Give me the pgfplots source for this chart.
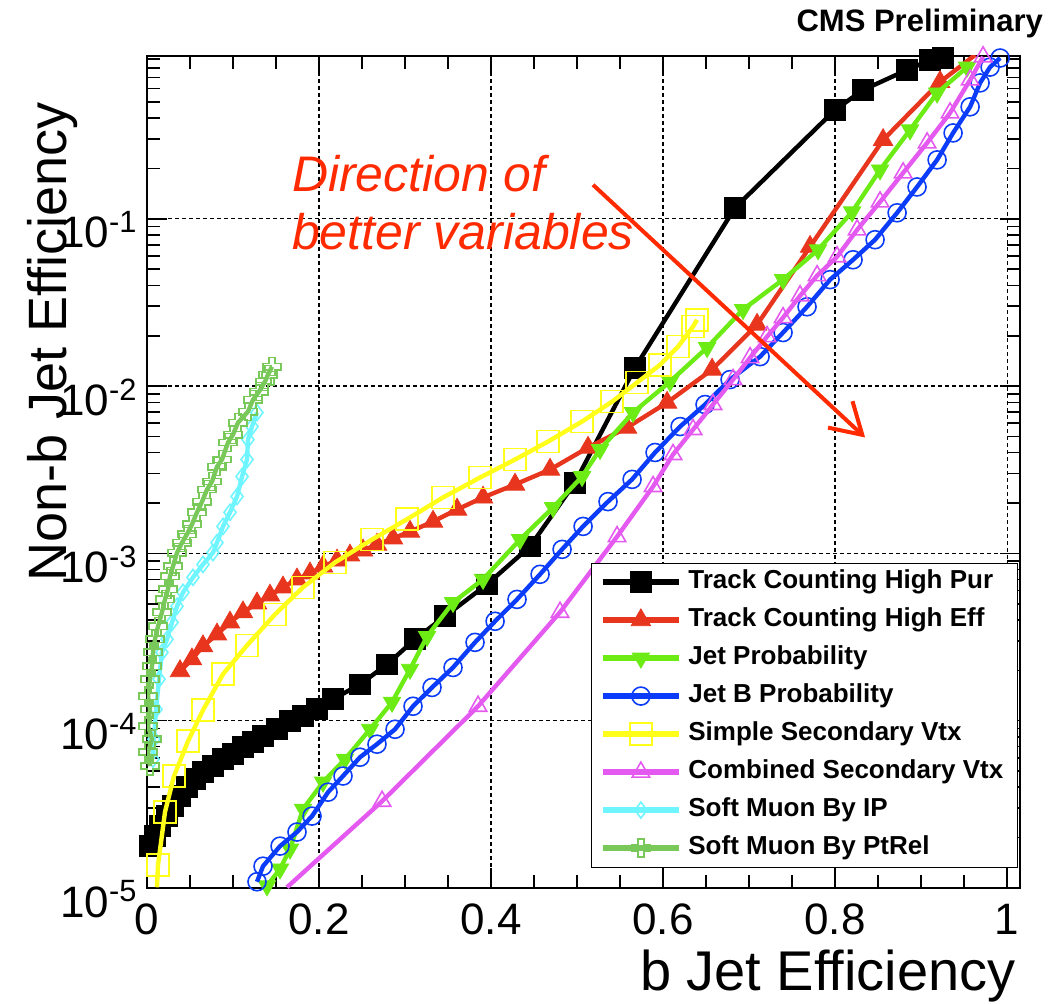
\documentclass[border=0pt]{standalone}
\usepackage{fontspec}
\setmainfont{Liberation Sans}
\usepackage{pgfplots}
\usepackage{pgfplotstable}
\pgfplotsset{compat=1.18}
\usetikzlibrary{arrows.meta}

\definecolor{tchpc}{HTML}{000000}
\definecolor{tchec}{HTML}{E8361E}
\definecolor{jpc}{HTML}{6CEB14}
\definecolor{jbpc}{HTML}{0A3CFA}
\definecolor{ssvc}{HTML}{FFFF1A}
\definecolor{csvc}{HTML}{E45AF0}
\definecolor{smipc}{HTML}{6EF5FF}
\definecolor{smptc}{HTML}{78C85A}
\definecolor{dirred}{HTML}{FF2A00}

% open cross marker (ROOT style)
\pgfdeclareplotmark{opencross}{%
  \pgfpathmoveto{\pgfqpoint{-.35\pgfplotmarksize}{\pgfplotmarksize}}%
  \pgfpathlineto{\pgfqpoint{.35\pgfplotmarksize}{\pgfplotmarksize}}%
  \pgfpathlineto{\pgfqpoint{.35\pgfplotmarksize}{.35\pgfplotmarksize}}%
  \pgfpathlineto{\pgfqpoint{\pgfplotmarksize}{.35\pgfplotmarksize}}%
  \pgfpathlineto{\pgfqpoint{\pgfplotmarksize}{-.35\pgfplotmarksize}}%
  \pgfpathlineto{\pgfqpoint{.35\pgfplotmarksize}{-.35\pgfplotmarksize}}%
  \pgfpathlineto{\pgfqpoint{.35\pgfplotmarksize}{-\pgfplotmarksize}}%
  \pgfpathlineto{\pgfqpoint{-.35\pgfplotmarksize}{-\pgfplotmarksize}}%
  \pgfpathlineto{\pgfqpoint{-.35\pgfplotmarksize}{-.35\pgfplotmarksize}}%
  \pgfpathlineto{\pgfqpoint{-\pgfplotmarksize}{-.35\pgfplotmarksize}}%
  \pgfpathlineto{\pgfqpoint{-\pgfplotmarksize}{.35\pgfplotmarksize}}%
  \pgfpathlineto{\pgfqpoint{-.35\pgfplotmarksize}{.35\pgfplotmarksize}}%
  \pgfpathclose\pgfusepathqstroke}

\pgfplotsset{
  tchp/.style={color=tchpc, line width=2.2pt, mark=square*, mark size=5.2pt, mark options={solid, line width=0.4pt}},
  tche/.style={color=tchec, line width=2.2pt, mark=triangle*, mark size=5.6pt, mark options={solid, line width=0.4pt}},
  jp/.style={color=jpc, line width=2.2pt, mark=triangle*, mark size=5pt, mark options={solid, line width=0.4pt, rotate=180}},
  jbp/.style={color=jbpc, line width=2.2pt, mark=o, mark size=4.5pt, mark options={solid, line width=0.8pt}},
  ssv/.style={color=ssvc, line width=2.2pt, mark=square, mark size=5.5pt, mark options={solid, line width=0.8pt}},
  csv/.style={color=csvc, line width=2.2pt, mark=triangle, mark size=5pt, mark options={solid, line width=0.8pt}},
  smip/.style={color=smipc, line width=2.2pt, mark=diamond, mark size=4pt, mark options={solid, line width=0.8pt}},
  smpt/.style={color=smptc, line width=2.2pt, mark=opencross, mark size=4.5pt, mark options={solid, line width=0.8pt}},
}

\pgfplotstableread{
x y
0.0035 1.78e-5
0.0093 2.04e-5
0.0151 2.34e-5
0.0233 2.69e-5
0.0302 3.09e-5
0.0384 3.54e-5
0.0465 4.01e-5
0.0558 4.48e-5
0.0651 4.93e-5
0.0767 5.35e-5
0.0884 5.89e-5
0.1000 6.31e-5
0.1116 6.95e-5
0.1233 7.45e-5
0.1349 8.07e-5
0.1512 8.89e-5
0.1663 9.93e-5
0.1814 1.064e-4
0.1977 1.172e-4
0.2163 1.343e-4
0.2477 1.65e-4
0.2791 2.17e-4
0.3116 3.07e-4
0.3465 4.21e-4
0.3953 6.53e-4
0.4453 1.10e-3
0.4977 2.65e-3
0.5674 0.0129
0.6837 0.1164
0.8000 0.448
0.8326 0.589
0.8837 0.776
0.9105 0.889
0.9256 0.914
}\tchpdata

\pgfplotstableread{
x y
0.0384 1.98e-4
0.0523 2.33e-4
0.0651 2.79e-4
0.0814 3.28e-4
0.0965 3.87e-4
0.1116 4.45e-4
0.1279 5.03e-4
0.1430 5.61e-4
0.1581 6.27e-4
0.1744 7.00e-4
0.1895 7.60e-4
0.2047 8.36e-4
0.2209 9.08e-4
0.2360 9.73e-4
0.2512 1.042e-3
0.2674 1.13e-3
0.2860 1.23e-3
0.3058 1.35e-3
0.3326 1.55e-3
0.3605 1.83e-3
0.3907 2.16e-3
0.4279 2.58e-3
0.4686 3.17e-3
0.5128 4.29e-3
0.5581 5.65e-3
0.6047 7.97e-3
0.6570 0.01256
0.7093 0.0233
0.7709 0.0681
0.8558 0.296
0.9221 0.658
0.9628 0.953
}\tchedata

\pgfplotstableread{
x y
0.1395 1.03e-5
0.1547 1.30e-5
0.1663 1.71e-5
0.1814 2.96e-5
0.2047 4.30e-5
0.2302 5.89e-5
0.2593 8.89e-5
0.2849 1.29e-4
0.3058 2.03e-4
0.3256 3.19e-4
0.3558 5.09e-4
0.3907 7.00e-4
0.4337 1.21e-3
0.4721 1.88e-3
0.5058 2.88e-3
0.5267 4.18e-3
0.5651 6.95e-3
0.6081 0.01064
0.6512 0.0170
0.6930 0.0287
0.7395 0.0433
0.7802 0.0653
0.8198 0.110
0.8523 0.196
0.8872 0.340
0.9186 0.565
0.9535 0.807
}\jpdata

\pgfplotstableread{
x y
0.1279 1.09e-5
0.1349 1.35e-5
0.1547 1.78e-5
0.1744 2.16e-5
0.1919 2.69e-5
0.2105 3.74e-5
0.2279 4.67e-5
0.2477 6.05e-5
0.2674 7.24e-5
0.2884 8.89e-5
0.3093 1.22e-4
0.3314 1.58e-4
0.3558 2.08e-4
0.3814 2.94e-4
0.4047 3.93e-4
0.4302 5.31e-4
0.4570 7.50e-4
0.4826 1.057e-3
0.5070 1.45e-3
0.5360 2.04e-3
0.5640 2.77e-3
0.5907 4.01e-3
0.6198 5.73e-3
0.6488 7.76e-3
0.6779 0.01094
0.7128 0.01500
0.7395 0.0209
0.7674 0.0298
0.7942 0.0433
0.8209 0.0569
0.8465 0.0750
0.8721 0.1086
0.8953 0.155
0.9186 0.225
0.9372 0.326
0.9570 0.467
0.9686 0.649
0.9802 0.807
0.9919 0.914
}\jbpdata

\pgfplotstableread{
x y
0.0116 1.01e-5
0.0128 1.37e-5
0.0209 2.84e-5
0.0314 4.67e-5
0.0477 7.55e-5
0.0651 1.156e-4
0.0884 1.90e-4
0.1163 2.82e-4
0.1488 4.32e-4
0.1814 6.27e-4
0.2186 8.83e-4
0.2616 1.21e-3
0.3023 1.60e-3
0.3442 2.16e-3
0.3872 2.84e-3
0.4279 3.64e-3
0.4663 4.66e-3
0.5058 6.14e-3
0.5407 8.07e-3
0.5698 0.0105
0.5965 0.0134
0.6174 0.0172
0.6349 0.0227
0.6395 0.0249
}\ssvdata

\pgfplotstableread{
x y
0.1628 1.01e-5
0.2733 3.30e-5
0.3849 1.22e-4
0.4802 4.45e-4
0.5465 1.26e-3
0.5884 2.51e-3
0.6116 3.90e-3
0.6349 5.50e-3
0.6581 7.76e-3
0.6814 0.01094
0.7012 0.01480
0.7209 0.01977
0.7395 0.02566
0.7593 0.03467
0.7791 0.04571
0.8023 0.05929
0.8256 0.0859
0.8523 0.1262
0.8791 0.1882
0.9070 0.2844
0.9337 0.4295
0.9570 0.676
0.9721 0.930
}\csvdata

\pgfplotstableread{
x y
0.0070 5.89e-5
0.0081 7.76e-5
0.0105 1.17e-4
0.0140 1.77e-4
0.0174 2.56e-4
0.0233 3.07e-4
0.0291 3.87e-4
0.0349 4.83e-4
0.0419 5.85e-4
0.0535 7.19e-4
0.0651 8.59e-4
0.0767 1.01e-3
0.0814 1.16e-3
0.0884 1.45e-3
0.0965 1.76e-3
0.1047 2.19e-3
0.1105 2.88e-3
0.1163 3.64e-3
0.1174 4.79e-3
0.1221 5.73e-3
0.1279 6.95e-3
}\smipdata

\pgfplotstableread{
x y
0.0035 5.35e-5
0.0012 6.49e-5
0.0058 7.76e-5
0.0012 9.27e-5
0.0035 1.17e-4
0.0012 1.40e-4
0.0035 1.77e-4
0.0058 2.11e-4
0.0070 2.56e-4
0.0093 3.07e-4
0.0128 3.66e-4
0.0174 4.45e-4
0.0209 5.31e-4
0.0244 6.10e-4
0.0267 7.29e-4
0.0302 8.36e-4
0.0349 1.01e-3
0.0407 1.16e-3
0.0465 1.30e-3
0.0523 1.49e-3
0.0581 1.76e-3
0.0640 2.04e-3
0.0698 2.41e-3
0.0756 2.69e-3
0.0814 3.30e-3
0.0872 3.64e-3
0.0942 4.60e-3
0.1000 5.13e-3
0.1058 6.05e-3
0.1174 7.04e-3
0.1233 8.30e-3
0.1302 9.27e-3
0.1372 1.064e-2
0.1407 1.172e-2
0.1453 1.306e-2
}\smptdata

\begin{document}
\begin{tikzpicture}
\begin{axis}[
  name=ax,
  at={(73.5pt,58pt)}, anchor=south west,
  scale only axis, width=436.5pt, height=416pt,
  xmin=0, xmax=1.015,
  ymode=log, ymin=1e-5, ymax=0.94,
  xtick={0,0.2,0.4,0.6,0.8,1},
  xticklabels={0,0.2,0.4,0.6,0.8,1},
  minor x tick num=3,
  ytick={1e-5,1e-4,1e-3,1e-2,1e-1},
  yticklabels={10\textsuperscript{-5},10\textsuperscript{-4},10\textsuperscript{-3},10\textsuperscript{-2},10\textsuperscript{-1}},
  minor ytick={2e-5,3e-5,4e-5,5e-5,6e-5,7e-5,8e-5,9e-5,
               2e-4,3e-4,4e-4,5e-4,6e-4,7e-4,8e-4,9e-4,
               2e-3,3e-3,4e-3,5e-3,6e-3,7e-3,8e-3,9e-3,
               2e-2,3e-2,4e-2,5e-2,6e-2,7e-2,8e-2,9e-2,
               0.2,0.3,0.4,0.5,0.6,0.7,0.8,0.9},
  tick align=inside,
  major tick length=10pt, minor tick length=6.5pt,
  tick style={black, line width=0.8pt},
  axis line style={line width=1pt},
  grid=major,
  major grid style={black, line width=0.6pt, dash pattern=on 2pt off 1.5pt},
  ticklabel style={font=\fontsize{22}{24}\selectfont, inner sep=0pt},
  xticklabel style={anchor=base, yshift=-23pt},
  yticklabel style={anchor=base east, xshift=-4.5pt, yshift=-14.5pt},
  xlabel={b Jet Efficiency},
  xlabel style={at={([xshift=-2pt,yshift=-51pt]rel axis cs:1,0)}, anchor=base east, inner sep=0pt, font=\fontsize{28}{31}\selectfont},
  ylabel={Non-b Jet Efficiency},
  ylabel style={at={([xshift=-40.5pt]rel axis cs:0,0.945)}, rotate=0, anchor=base east, inner sep=0pt, font=\fontsize{27}{30}\selectfont},
  clip mode=individual,
  legend style={at={(0.998,0.391)}, anchor=north east, draw=black, fill=white,
    font=\bfseries\fontsize{13}{15}\selectfont,
    inner xsep=4pt, inner ysep=0pt, row sep=0pt,
    nodes={inner sep=3.25pt, text height=9.5pt, text depth=3pt}},
  legend cell align=left,
  legend image code/.code={\draw[mark repeat=2,mark phase=2,#1,line width=3pt] plot coordinates {(0pt,0pt) (19pt,0pt) (38pt,0pt)};},
]
\addplot[tchp, forget plot] table {\tchpdata};
\addplot[tche, forget plot] table {\tchedata};
\addplot[jp, forget plot] table {\jpdata};
\addplot[jbp, forget plot] table {\jbpdata};
\addplot[ssv, mark=none, forget plot] table {\ssvdata};
\addplot[ssv, only marks, skip coords between index={0}{1}, forget plot] table {\ssvdata};
\addplot[csv, mark=none, forget plot] table {\csvdata};
\addplot[csv, only marks, skip coords between index={0}{1}, forget plot] table {\csvdata};
\addplot[smip, forget plot] table {\smipdata};
\addplot[smpt, forget plot] table {\smptdata};

\addlegendimage{tchp}\addlegendentry{Track Counting High Pur}
\addlegendimage{tche}\addlegendentry{Track Counting High Eff}
\addlegendimage{jp}\addlegendentry{Jet Probability}
\addlegendimage{jbp}\addlegendentry{Jet B Probability}
\addlegendimage{ssv}\addlegendentry{Simple Secondary Vtx}
\addlegendimage{csv}\addlegendentry{Combined Secondary Vtx}
\addlegendimage{smip}\addlegendentry{Soft Muon By IP}
\addlegendimage{smpt}\addlegendentry{Soft Muon By PtRel}

\node[anchor=base west, text=dirred, font=\itshape\fontsize{25}{30}\selectfont] at (axis cs:0.1605,0.1449) {Direction of};
\node[anchor=base west, text=dirred, font=\itshape\fontsize{25}{30}\selectfont] at (axis cs:0.1605,0.0653) {better variables};
\draw[dirred, line width=2pt, -{Straight Barb[length=15pt,width=18pt]}] (axis cs:0.5186,0.1596) -- (axis cs:0.8349,0.00493);
\end{axis}
\node[anchor=base east, font=\bfseries\fontsize{15.5}{18}\selectfont] at ([xshift=15pt,yshift=12pt]ax.north east) {CMS Preliminary};
\pgfresetboundingbox
\path[use as bounding box] (0,0) rectangle (527.5pt,502pt);
\end{tikzpicture}
\end{document}
